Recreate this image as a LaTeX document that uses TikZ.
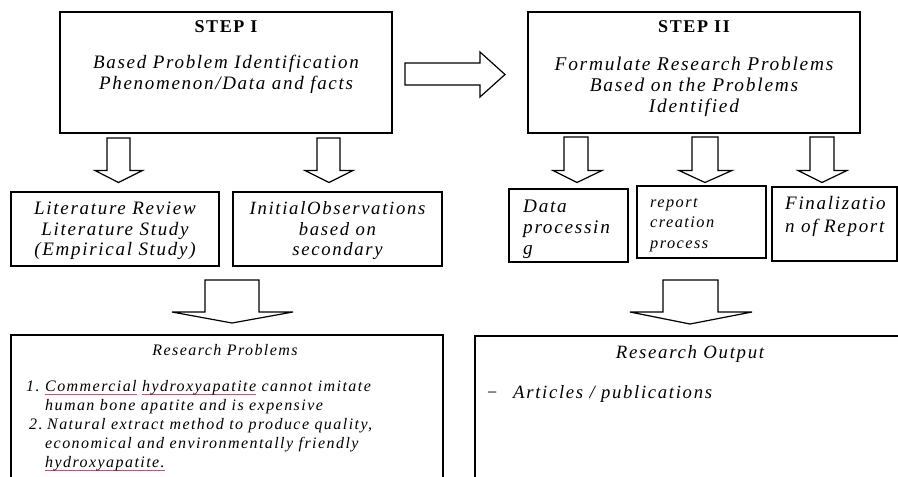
\documentclass[tikz,border=0pt]{standalone}
\usepackage{fontspec}
\setmainfont{Liberation Serif}
\newfontfamily\lsp[LetterSpace=9]{Liberation Serif}
\definecolor{ulred}{HTML}{E8456A}
\newsavebox\ulbox
\newcommand\redul[1]{\sbox\ulbox{#1}\rlap{\textcolor{ulred}{\rule[-3.5pt]{\wd\ulbox}{1pt}}}\usebox\ulbox}
\newcommand\fs[2]{\lsp\itshape\fontsize{#1}{#2}\selectfont}
\tikzset{
  box/.style={draw, line width=1.8pt, inner sep=0pt, fill=white},
  barrow/.style={draw, line width=1.2pt, fill=white, line join=miter},
  ttl/.style={font=\lsp\bfseries\fontsize{18}{21}\selectfont, inner sep=0pt},
  txt/.style={font=\fs{18}{21}, align=center, inner sep=0pt},
  txtl/.style={font=\fs{18}{21}, align=left, inner sep=0pt},
  txts/.style={font=\fs{16}{19}, align=left, inner sep=0pt},
}
% down block arrow: shaftL shaftR top shaftBottom headL headR tipx tipy
\newcommand\bdarrow[8]{\draw[barrow] (#1,#3) -- (#2,#3) -- (#2,#4) -- (#6,#4) -- (#7,#8) -- (#5,#4) -- (#1,#4) -- cycle;}
\begin{document}
\begin{tikzpicture}[x=1pt,y=-1pt]
\useasboundingbox (0,0) rectangle (898,477);
% boxes
\node[box, minimum width=332, minimum height=121] (s1) at (226,72.5) {};
\node[box, minimum width=332, minimum height=121] (s2) at (694,72.5) {};
\node[box, minimum width=208, minimum height=74] (lit) at (115,229) {};
\node[box, minimum width=209, minimum height=74] (ini) at (337.5,229) {};
\node[box, minimum width=119, minimum height=73] (dat) at (568.5,225.5) {};
\node[box, minimum width=129, minimum height=72] (rep) at (701.5,222) {};
\node[box, minimum width=125, minimum height=74] (fin) at (834.5,224) {};
\node[box, minimum width=432, minimum height=160] (rp) at (227,415) {};
\node[box, minimum width=440, minimum height=160] (ro) at (695,416) {};
% block arrows
\draw[barrow] (405,63) -- (480,63) -- (480,52) -- (505,74.5) -- (480,97) -- (480,85) -- (405,85) -- cycle;
\bdarrow{107}{130}{138}{170.5}{95}{142.5}{118.5}{182.5}
\bdarrow{317}{340}{138}{170.5}{305}{353}{329}{182.5}
\bdarrow{564}{588}{137}{170.5}{553}{602}{577}{182.5}
\bdarrow{692}{718}{137}{170.5}{679}{732}{705}{182.5}
\bdarrow{810}{834}{137}{170.5}{798}{847}{822}{182.5}
\bdarrow{205}{259}{280}{312}{172}{293}{232}{323}
\bdarrow{663}{718}{280}{312}{630}{752}{690}{324}
% texts
\node[ttl] (t1) at (226,27) {STEP I};
\node[txt, font=\fs{19}{21.5}] (t1b) at (226,74.5) {Based Problem Identification\\Phenomenon/Data and facts};
\node[ttl] (t2) at (694,27) {STEP II};
\node[txt, font=\fs{19.4}{21}] (t2b) at (694,86.5) {Formulate Research Problems\\Based on the Problems\\Identified};
\node[txt, font=\fs{19}{20.5}] (litt) at (115,231) {Literature Review\\Literature Study\\(Empirical Study)};
\node[txt, font=\fs{18.7}{20.5}] (init) at (337.5,231) {InitialObservations\\based on\\secondary};
\node[txtl, anchor=west, font=\fs{19.2}{21}] (datt) at (523,229) {Data\\processin\\g};
\node[txts, anchor=west, font=\fs{16.3}{20.5}] (rept) at (650,225) {report\\creation\\process};
\node[txtl, anchor=west, font=\fs{19}{23}] (fint) at (785,216.5) {Finalizatio\\n of Report};
\node[txts] (rph) at (225,350) {Research Problems};
\node[txts, anchor=base west] (n1) at (26,391) {1.};
\node[txts, anchor=base west] (l1) at (45,391) {\redul{Commercial} \redul{hydroxyapatite} cannot imitate};
\node[txts, anchor=base west] (l2) at (45,410) {human bone apatite and is expensive};
\node[txts, anchor=base west] (n2) at (29,429) {2.};
\node[txts, anchor=base west] (l3) at (47,429) {Natural extract method to produce quality,};
\node[txts, anchor=base west] (l4) at (45,448) {economical and environmentally friendly};
\node[txts, anchor=base west] (l5) at (45,467) {\redul{hydroxyapatite.}};
\node[txt, font=\fs{18.8}{21}] (roh) at (690,354) {Research Output};
\node[txtl, anchor=base west] (dash) at (487,398) {\normalfont\fontsize{18}{21}\selectfont −};
\node[txtl, anchor=base west, font=\fs{18.7}{21}] (rol) at (513,398) {Articles / publications};
\end{tikzpicture}
\end{document}
